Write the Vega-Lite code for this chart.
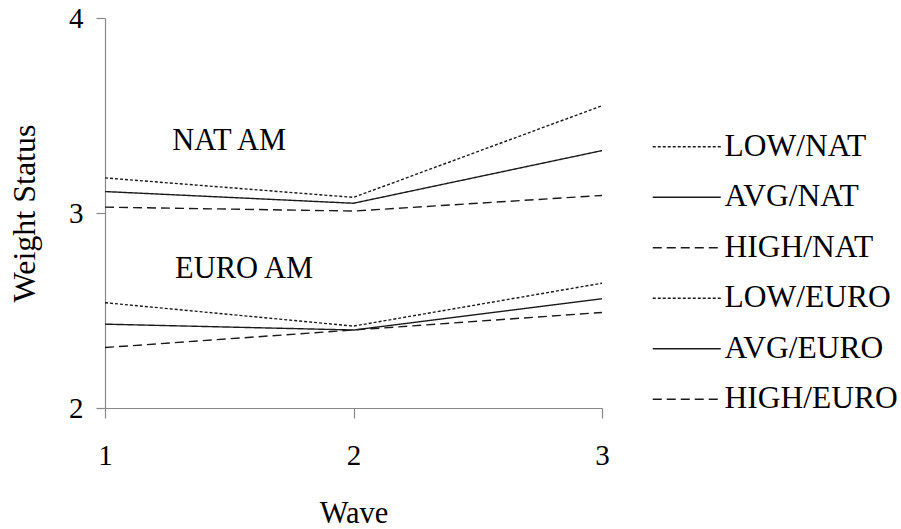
{
  "$schema": "https://vega.github.io/schema/vega-lite/v6.json",
  "width": 497,
  "height": 390,
  "autosize": {"type": "none"},
  "padding": {"left": 105, "top": 18, "right": 299, "bottom": 121},
  "background": "white",
  "config": {
    "font": "Liberation Serif",
    "view": {"stroke": null},
    "axis": {"grid": false, "domainColor": "#888888", "tickColor": "#888888", "labelColor": "#000000", "titleColor": "#000000", "labelFontSize": 29, "titleFontSize": 30, "titleFontWeight": "normal", "labelFont": "Liberation Serif", "titleFont": "Liberation Serif", "domainWidth": 1.2, "tickWidth": 1.2, "labelOverlap": false}
  },
  "datasets": {
    "lines": [
      {"series": "LOW/NAT", "wave": 1, "value": 3.18},
      {"series": "LOW/NAT", "wave": 2, "value": 3.08},
      {"series": "LOW/NAT", "wave": 3, "value": 3.55},
      {"series": "AVG/NAT", "wave": 1, "value": 3.11},
      {"series": "AVG/NAT", "wave": 2, "value": 3.05},
      {"series": "AVG/NAT", "wave": 3, "value": 3.32},
      {"series": "HIGH/NAT", "wave": 1, "value": 3.03},
      {"series": "HIGH/NAT", "wave": 2, "value": 3.01},
      {"series": "HIGH/NAT", "wave": 3, "value": 3.09},
      {"series": "LOW/EURO", "wave": 1, "value": 2.54},
      {"series": "LOW/EURO", "wave": 2, "value": 2.42},
      {"series": "LOW/EURO", "wave": 3, "value": 2.64},
      {"series": "AVG/EURO", "wave": 1, "value": 2.43},
      {"series": "AVG/EURO", "wave": 2, "value": 2.40},
      {"series": "AVG/EURO", "wave": 3, "value": 2.56},
      {"series": "HIGH/EURO", "wave": 1, "value": 2.31},
      {"series": "HIGH/EURO", "wave": 2, "value": 2.40},
      {"series": "HIGH/EURO", "wave": 3, "value": 2.49}
    ],
    "labels": [
      {"label": "NAT AM", "wave": 1.5, "value": 3.37},
      {"label": "EURO AM", "wave": 1.56, "value": 2.715}
    ]
  },
  "layer": [
    {
      "data": {"name": "lines"},
      "mark": {"type": "line", "color": "#1a1a1a", "strokeWidth": 1.4},
      "encoding": {
        "x": {
          "field": "wave", "type": "quantitative",
          "scale": {"domain": [1, 3], "nice": false, "zero": false},
          "axis": {"tickCount": 2, "tickMinStep": 1, "format": "d", "tickSize": 10, "labelPadding": 23, "labelFlush": false, "labelOverlap": false, "title": "Wave", "titleFont": "Liberation Serif", "titleFontWeight": "normal", "titleFontSize": 30.5, "titlePadding": 28}
        },
        "y": {
          "field": "value", "type": "quantitative",
          "scale": {"domain": [2, 4], "nice": false, "zero": false},
          "axis": {"tickCount": 2, "tickMinStep": 1, "format": "d", "tickSize": 9, "labelPadding": 13, "labelOverlap": false, "title": "Weight Status", "titleFont": "Liberation Serif", "titleFontWeight": "normal", "titleFontSize": 32, "titlePadding": 27}
        },
        "strokeDash": {
          "field": "series", "type": "nominal",
          "scale": {
            "domain": ["LOW/NAT", "AVG/NAT", "HIGH/NAT", "LOW/EURO", "AVG/EURO", "HIGH/EURO"],
            "range": [[3, 2], [1, 0], [9, 5], [3, 2], [1, 0], [9, 5]]
          },
          "legend": {
            "title": null,
            "orient": "none",
            "legendX": 566,
            "legendY": 113,
            "symbolType": "M-4,0H4",
            "symbolSize": 289,
            "symbolStrokeColor": "#1a1a1a",
            "symbolStrokeWidth": 1.3,
            "labelFontSize": 31.5,
            "labelFont": "Liberation Serif",
            "labelColor": "#000000",
            "labelOffset": 22,
            "rowPadding": 17.5,
            "labelLimit": 300
          }
        }
      }
    },
    {
      "data": {"name": "labels"},
      "mark": {"type": "text", "fontSize": 30.5, "font": "Liberation Serif", "color": "#000000", "baseline": "middle", "align": "center"},
      "encoding": {
        "x": {"field": "wave", "type": "quantitative"},
        "y": {"field": "value", "type": "quantitative"},
        "text": {"field": "label"}
      }
    }
  ]
}
